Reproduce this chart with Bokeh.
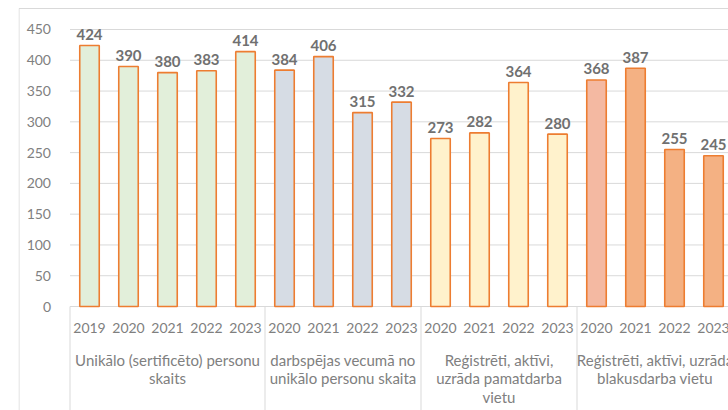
from bokeh.plotting import figure
from bokeh.models import FixedTicker, ColumnDataSource, Range1d
from bokeh.embed import file_html
from bokeh.resources import INLINE
from bokeh.core.properties import value

# ---- data ----
years = ["2019", "2020", "2021", "2022", "2023",
         "2020", "2021", "2022", "2023",
         "2020", "2021", "2022", "2023",
         "2020", "2021", "2022", "2023"]
values = [424, 390, 380, 383, 414,
          384, 406, 315, 332,
          273, 282, 364, 280,
          368, 387, 255, 245]
group_sizes = [5, 4, 4, 4]
group_labels = [
    "Unikālo (sertificēto) personu\nskaits",
    "darbspējas vecumā no\nunikālo personu skaita",
    "Reģistrēti, aktīvi,\nuzrāda pamatdarba\nvietu",
    "Reģistrēti, aktīvi, uzrāda\nblakusdarba vietu",
]
group_colors = ["#E2EFDA", "#D6DCE4", "#FFF2CC", "#F4B183"]
first_bar_override = {13: "#F4B9A2"}
y_ticks = [0, 50, 100, 150, 200, 250, 300, 350, 400, 450]

# ---- derived ----
xs = [i + 0.5 for i in range(len(values))]
colors = []
for g, n in enumerate(group_sizes):
    colors += [group_colors[g]] * n
for k, c in first_bar_override.items():
    colors[k] = c

seps = [0]
for n in group_sizes:
    seps.append(seps[-1] + n)
centers = [(seps[i] + seps[i + 1]) / 2 for i in range(len(group_sizes))]

PX = 39.0          # pixels per category
PY = 0.6156        # pixels per value unit
X0 = -51.5 / PX
X1 = X0 + 710 / PX
Y_TOP = 450 + 29 / PY
Y_BOT = -(410 - 306) / PY
BORDER_Y = 450 + 21 / PY
BORDER_X = X0 + 0.5 / PX

p = figure(width=728, height=410, output_backend="svg", toolbar_location=None,
           x_range=Range1d(X0, X1), y_range=Range1d(Y_BOT, Y_TOP),
           x_axis_location=None, min_border_left=18, min_border_right=0,
           min_border_top=0, min_border_bottom=0)
p.outline_line_color = None
p.background_fill_color = "white"
p.border_fill_color = "white"

FONT = "Lato"
GRID = "#D9D9D9"

yax = p.yaxis[0]
yax.fixed_location = 0
yax.ticker = FixedTicker(ticks=y_ticks)
yax.axis_line_color = None
yax.major_tick_line_color = None
yax.minor_tick_line_color = None
yax.major_label_text_font = FONT
yax.major_label_text_font_size = "14px"
yax.major_label_text_color = "#808080"
yax.major_label_standoff = 13

p.xgrid.visible = False
p.ygrid.visible = False

# horizontal gridlines from the plot area's left edge
p.segment(x0=[0] * len(y_ticks), y0=y_ticks, x1=[X1] * len(y_ticks), y1=y_ticks,
          line_color=GRID, line_width=1)

# chart-area border (top and left)
p.segment(x0=[BORDER_X, BORDER_X], y0=[BORDER_Y, BORDER_Y],
          x1=[X1, BORDER_X], y1=[BORDER_Y, Y_BOT], line_color=GRID, line_width=1)

src = ColumnDataSource(dict(x=xs, top=values, color=colors, years=years,
                            lab=[str(v) for v in values]))

p.vbar(x="x", top="top", width=0.5, fill_color="color", line_color="#ED7D31",
       line_width=1.6, source=src)

p.text(x="x", y="top", text="lab", source=src, text_align="center",
       text_baseline="alphabetic", y_offset=-11, text_font=value(FONT),
       text_font_style="bold", text_font_size="15px", text_color="#707070")

p.text(x="x", y=0, text="years", source=src, text_align="center",
       text_baseline="middle", y_offset=21, text_font=value(FONT),
       text_font_size="14px", text_color="#7F7F7F")

# group separators
p.segment(x0=seps, y0=[0] * len(seps), x1=seps, y1=[Y_BOT] * len(seps),
          line_color=GRID, line_width=1)

# group labels
gx, gy, gt, goff = [], [], [], []
for c, lab in zip(centers, group_labels):
    for j, line in enumerate(lab.split("\n")):
        gx.append(c)
        gy.append(0)
        gt.append(line)
        goff.append(53 + 18.5 * j)
p.text(x=gx, y=gy, text=gt, y_offset=goff, text_align="center",
       text_baseline="middle", text_font=value(FONT), text_font_size="15px",
       text_color="#808080")

open("out.html", "w").write(file_html(p, INLINE))
